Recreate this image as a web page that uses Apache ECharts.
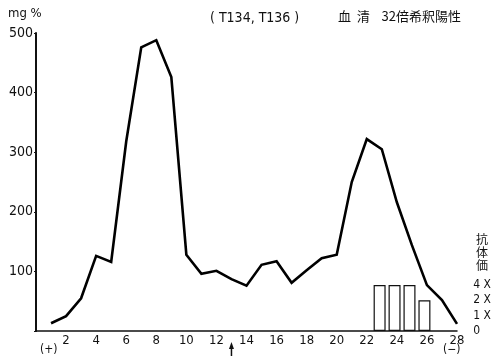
<!DOCTYPE html>
<html>
<head>
<meta charset="utf-8">
<script src="https://cdn.jsdelivr.net/npm/echarts@6/dist/echarts.min.js"></script>
<style>
  html, body { margin: 0; padding: 0; background: #fff; }
  #chart { width: 494px; height: 360px; }
</style>
</head>
<body>
<div id="chart"></div>
<script>
// Fraction numbers along the elution axis
const fractions = [1, 2, 3, 4, 5, 6, 7, 8, 9, 10, 11, 12, 13, 14,
                   15, 16, 17, 18, 19, 20, 21, 22, 23, 24, 25, 26, 27, 28];
// Protein concentration per fraction (mg %)
const concentration = [13, 25, 55, 126, 116, 318, 476, 488, 426, 128, 96, 101, 87, 76,
                       111, 117, 81, 102, 122, 128, 250, 322, 305, 216, 144, 77, 52, 12];
// Antibody titer per fraction (index into titerLabels)
const titerFractions = [23, 24, 25, 26];
const titerLevels = [3, 3, 3, 2];
const titerLabels = ['0', '1 X', '2 X', '4 X'];
// Left axis tick labels
const concTicks = [100, 200, 300, 400, 500];

const FONT = "'DejaVu Sans Condensed', 'Liberation Sans', sans-serif";
const CJK = "'Noto Sans CJK JP', sans-serif";

const chart = echarts.init(document.getElementById('chart'), null, { renderer: 'canvas' });

const option = {
  animation: false,
  backgroundColor: '#fff',
  grid: [
    { left: 36, right: 37, top: 33, bottom: 29 },
    { left: 36, right: 37, top: 285, bottom: 29 }
  ],
  xAxis: [
    {
      gridIndex: 0, type: 'value', min: 0, max: 28, interval: 2,
      axisLine: { show: true, lineStyle: { color: '#111', width: 1.5 } },
      axisTick: { show: false },
      splitLine: { show: false },
      axisLabel: {
        color: '#111', fontFamily: FONT, fontSize: 13, margin: 3,
        formatter: v => (v === 0 ? '' : String(v))
      }
    },
    {
      gridIndex: 1, type: 'value', min: 0, max: 28,
      show: false
    }
  ],
  yAxis: [
    {
      gridIndex: 0, type: 'value', min: 0, max: 500, interval: 100,
      axisLine: { show: true, lineStyle: { color: '#111', width: 2 } },
      axisTick: { show: true, length: 2, lineStyle: { color: '#111' } },
      splitLine: { show: false },
      axisLabel: {
        color: '#111', fontFamily: FONT, fontSize: 14, margin: 3,
        formatter: v => (concTicks.includes(v) ? String(v) : '')
      }
    },
    {
      gridIndex: 1, type: 'value', min: 0, max: 3, interval: 1,
      position: 'right', offset: 15,
      axisLine: { show: true, lineStyle: { color: '#111', width: 1.5 } },
      axisTick: { show: false },
      splitLine: { show: false },
      axisLabel: {
        color: '#111', fontFamily: FONT, fontSize: 12, margin: 4,
        formatter: v => titerLabels[v] || ''
      }
    }
  ],
  series: [
    {
      type: 'bar',
      xAxisIndex: 1, yAxisIndex: 1,
      barWidth: 12,
      z: 2,
      itemStyle: { color: '#fff', borderColor: '#111', borderWidth: 1.2 },
      data: titerFractions.map((f, i) => [f, titerLevels[i]])
    },
    {
      type: 'line',
      xAxisIndex: 0, yAxisIndex: 0,
      z: 5,
      symbol: 'none',
      lineStyle: { color: '#000', width: 2.6, join: 'miter' },
      data: fractions.map((f, i) => [f, concentration[i]])
    }
  ],
  graphic: [
    { type: 'text', left: 8, top: 7,
      style: { text: 'mg %', font: `13px ${FONT}`, fill: '#111' } },
    { type: 'text', left: 210, top: 11,
      style: { text: '( T134, T136 )', font: `14px ${FONT}`, fill: '#111' } },
    { type: 'text', left: 338, top: 10,
      style: { text: '血  清    32倍希釈陽性', font: `13px ${CJK}`, fill: '#111' } },
    { type: 'text', left: 476, top: 233,
      style: { text: '抗\n体\n価', font: `12px ${CJK}`, lineHeight: 13, fill: '#111' } },
    { type: 'text', left: 40, top: 344,
      style: { text: '(+)', font: `12px ${FONT}`, fill: '#111' } },
    { type: 'text', left: 443, top: 344,
      style: { text: '(−)', font: `12px ${FONT}`, fill: '#111' } }
  ]
};

chart.setOption(option);

// Arrow under fraction 13 marking the sample application point
const p = chart.convertToPixel({ xAxisIndex: 0, yAxisIndex: 0 }, [13, 0]);
chart.setOption({
  graphic: option.graphic.concat([
    { type: 'line', shape: { x1: p[0], y1: p[1] + 15, x2: p[0], y2: p[1] + 25 },
      style: { stroke: '#111', lineWidth: 1.5 } },
    { type: 'polygon',
      shape: { points: [[p[0], p[1] + 11], [p[0] - 2.5, p[1] + 18], [p[0] + 2.5, p[1] + 18]] },
      style: { fill: '#111' } }
  ])
});
</script>
</body>
</html>
